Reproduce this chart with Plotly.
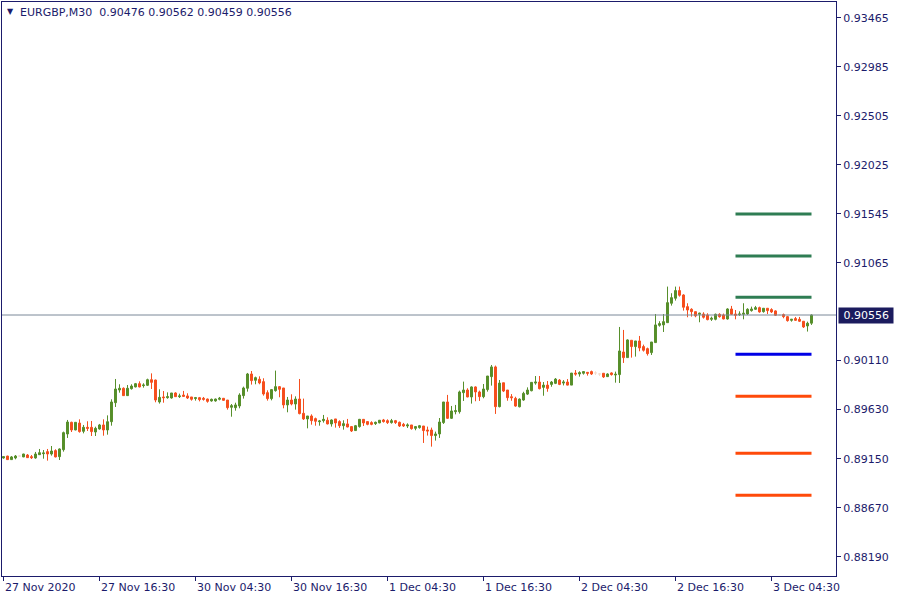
import plotly.graph_objects as go
from datetime import datetime, timedelta

symbol = "EURGBP,M30"
first_bar_time = "2020-11-27 04:30"

opens = [
    0.89157, 0.89176, 0.89141, 0.89157, 0.89176, 0.89167, 0.89186, 0.89170, 0.89157, 0.89189,
    0.89199, 0.89219, 0.89196, 0.89229, 0.89170, 0.89238, 0.89392, 0.89506, 0.89431, 0.89499,
    0.89418, 0.89457, 0.89457, 0.89411, 0.89441, 0.89480, 0.89431, 0.89512, 0.89698, 0.89822,
    0.89839, 0.89767, 0.89835, 0.89852, 0.89884, 0.89865, 0.89868, 0.89923, 0.89920, 0.89705,
    0.89754, 0.89747, 0.89744, 0.89793, 0.89757, 0.89773, 0.89764, 0.89754, 0.89738, 0.89747,
    0.89741, 0.89734, 0.89715, 0.89715, 0.89731, 0.89741, 0.89724, 0.89653, 0.89649, 0.89666,
    0.89767, 0.89839, 0.89979, 0.89917, 0.89927, 0.89904, 0.89796, 0.89738, 0.89816, 0.89855,
    0.89842, 0.89676, 0.89724, 0.89685, 0.89734, 0.89594, 0.89539, 0.89568, 0.89542, 0.89512,
    0.89522, 0.89526, 0.89490, 0.89539, 0.89513, 0.89473, 0.89490, 0.89464, 0.89425, 0.89464,
    0.89535, 0.89513, 0.89503, 0.89493, 0.89500, 0.89529, 0.89522, 0.89503, 0.89522, 0.89506,
    0.89486, 0.89470, 0.89480, 0.89447, 0.89454, 0.89470, 0.89431, 0.89431, 0.89376, 0.89392,
    0.89503, 0.89705, 0.89545, 0.89610, 0.89610, 0.89796, 0.89822, 0.89754, 0.89852, 0.89803,
    0.89757, 0.89826, 0.89953, 0.90048, 0.89659, 0.89893, 0.89822, 0.89756, 0.89740, 0.89658,
    0.89724, 0.89782, 0.89815, 0.89890, 0.89900, 0.89848, 0.89870, 0.89877, 0.89887, 0.89919,
    0.89890, 0.89900, 0.89870, 0.89988, 0.89979, 0.89986, 0.89995, 0.90002, 0.89989, 0.89979,
    0.89986, 0.89953, 0.89989, 0.89969, 0.89973, 0.90194, 0.90139, 0.90309, 0.90247, 0.90302,
    0.90247, 0.90227, 0.90188, 0.90286, 0.90455, 0.90459, 0.90481, 0.90671, 0.90720, 0.90795,
    0.90752, 0.90638, 0.90612, 0.90589, 0.90563, 0.90566, 0.90556, 0.90514, 0.90514, 0.90563,
    0.90556, 0.90517, 0.90615, 0.90566, 0.90560, 0.90563, 0.90566, 0.90599, 0.90612, 0.90628,
    0.90589, 0.90622, 0.90609, 0.90596, 0.90556, 0.90560, 0.90540, 0.90504, 0.90521, 0.90514,
    0.90495, 0.90449, 0.90476,
]
highs = [
    0.89176, 0.89178, 0.89176, 0.89186, 0.89178, 0.89198, 0.89196, 0.89186, 0.89216, 0.89245,
    0.89235, 0.89245, 0.89274, 0.89242, 0.89251, 0.89415, 0.89529, 0.89512, 0.89509, 0.89535,
    0.89480, 0.89516, 0.89519, 0.89463, 0.89490, 0.89535, 0.89574, 0.89731, 0.89930, 0.89878,
    0.89848, 0.89871, 0.89878, 0.89891, 0.89907, 0.89888, 0.89933, 0.89985, 0.89923, 0.89829,
    0.89812, 0.89799, 0.89793, 0.89800, 0.89786, 0.89813, 0.89790, 0.89754, 0.89754, 0.89754,
    0.89754, 0.89738, 0.89738, 0.89738, 0.89754, 0.89744, 0.89724, 0.89685, 0.89698, 0.89790,
    0.89855, 0.89989, 0.90008, 0.89953, 0.89956, 0.89937, 0.89819, 0.89832, 0.90012, 0.89861,
    0.89842, 0.89754, 0.89780, 0.89760, 0.89930, 0.89738, 0.89568, 0.89584, 0.89552, 0.89529,
    0.89578, 0.89555, 0.89535, 0.89539, 0.89526, 0.89526, 0.89539, 0.89470, 0.89480, 0.89539,
    0.89535, 0.89513, 0.89516, 0.89513, 0.89529, 0.89539, 0.89535, 0.89539, 0.89529, 0.89513,
    0.89500, 0.89496, 0.89480, 0.89470, 0.89480, 0.89470, 0.89464, 0.89454, 0.89415, 0.89548,
    0.89705, 0.89774, 0.89666, 0.89676, 0.89816, 0.89904, 0.89839, 0.89858, 0.89858, 0.89816,
    0.89881, 0.89959, 0.90067, 0.90061, 0.89920, 0.89893, 0.89822, 0.89782, 0.89756, 0.89740,
    0.89805, 0.89848, 0.89900, 0.89959, 0.89959, 0.89900, 0.89910, 0.89910, 0.89939, 0.89929,
    0.89919, 0.89929, 0.89988, 0.90017, 0.90005, 0.90008, 0.89995, 0.90012, 0.90005, 0.89986,
    0.89986, 0.89986, 0.89995, 0.90002, 0.90439, 0.90410, 0.90318, 0.90309, 0.90302, 0.90351,
    0.90266, 0.90237, 0.90292, 0.90566, 0.90495, 0.90566, 0.90834, 0.90769, 0.90834, 0.90834,
    0.90759, 0.90671, 0.90622, 0.90589, 0.90579, 0.90583, 0.90573, 0.90540, 0.90570, 0.90573,
    0.90570, 0.90622, 0.90645, 0.90605, 0.90592, 0.90671, 0.90622, 0.90638, 0.90645, 0.90638,
    0.90622, 0.90622, 0.90622, 0.90602, 0.90562, 0.90570, 0.90547, 0.90517, 0.90537, 0.90537,
    0.90495, 0.90491, 0.90562,
]
lows = [
    0.89150, 0.89139, 0.89137, 0.89144, 0.89174, 0.89165, 0.89157, 0.89147, 0.89150, 0.89186,
    0.89150, 0.89131, 0.89180, 0.89163, 0.89137, 0.89219, 0.89353, 0.89411, 0.89428, 0.89405,
    0.89398, 0.89421, 0.89372, 0.89372, 0.89434, 0.89375, 0.89385, 0.89473, 0.89656, 0.89796,
    0.89764, 0.89764, 0.89826, 0.89848, 0.89848, 0.89845, 0.89861, 0.89832, 0.89702, 0.89689,
    0.89698, 0.89737, 0.89738, 0.89754, 0.89744, 0.89754, 0.89734, 0.89718, 0.89718, 0.89711,
    0.89718, 0.89698, 0.89708, 0.89708, 0.89721, 0.89718, 0.89630, 0.89561, 0.89620, 0.89643,
    0.89738, 0.89806, 0.89875, 0.89878, 0.89878, 0.89767, 0.89718, 0.89721, 0.89806, 0.89751,
    0.89643, 0.89604, 0.89672, 0.89630, 0.89584, 0.89529, 0.89447, 0.89483, 0.89473, 0.89473,
    0.89503, 0.89486, 0.89464, 0.89454, 0.89451, 0.89434, 0.89457, 0.89411, 0.89421, 0.89454,
    0.89470, 0.89477, 0.89477, 0.89480, 0.89497, 0.89503, 0.89490, 0.89493, 0.89490, 0.89460,
    0.89460, 0.89451, 0.89434, 0.89428, 0.89444, 0.89304, 0.89376, 0.89268, 0.89327, 0.89353,
    0.89490, 0.89539, 0.89539, 0.89584, 0.89591, 0.89715, 0.89751, 0.89689, 0.89712, 0.89715,
    0.89741, 0.89806, 0.89865, 0.89588, 0.89652, 0.89802, 0.89717, 0.89717, 0.89658, 0.89652,
    0.89717, 0.89773, 0.89809, 0.89874, 0.89828, 0.89766, 0.89805, 0.89854, 0.89880, 0.89870,
    0.89867, 0.89867, 0.89870, 0.89962, 0.89953, 0.89973, 0.89963, 0.89969, 0.89969, 0.89960,
    0.89940, 0.89950, 0.89963, 0.89894, 0.89891, 0.90087, 0.90139, 0.90139, 0.90149, 0.90201,
    0.90198, 0.90159, 0.90165, 0.90286, 0.90442, 0.90390, 0.90481, 0.90648, 0.90697, 0.90736,
    0.90599, 0.90534, 0.90540, 0.90534, 0.90485, 0.90521, 0.90504, 0.90498, 0.90504, 0.90530,
    0.90514, 0.90511, 0.90556, 0.90514, 0.90547, 0.90514, 0.90556, 0.90589, 0.90605, 0.90579,
    0.90579, 0.90566, 0.90576, 0.90547, 0.90550, 0.90524, 0.90491, 0.90491, 0.90498, 0.90488,
    0.90429, 0.90394, 0.90459,
]
closes = [
    0.89170, 0.89141, 0.89167, 0.89176, 0.89176, 0.89196, 0.89160, 0.89160, 0.89196, 0.89209,
    0.89206, 0.89196, 0.89225, 0.89167, 0.89245, 0.89405, 0.89509, 0.89431, 0.89506, 0.89415,
    0.89457, 0.89447, 0.89415, 0.89447, 0.89480, 0.89431, 0.89512, 0.89705, 0.89832, 0.89839,
    0.89767, 0.89839, 0.89861, 0.89884, 0.89852, 0.89871, 0.89923, 0.89897, 0.89724, 0.89750,
    0.89747, 0.89757, 0.89793, 0.89757, 0.89764, 0.89760, 0.89744, 0.89731, 0.89747, 0.89728,
    0.89731, 0.89711, 0.89731, 0.89734, 0.89741, 0.89721, 0.89649, 0.89669, 0.89676, 0.89773,
    0.89842, 0.89979, 0.89914, 0.89943, 0.89891, 0.89783, 0.89738, 0.89826, 0.89855, 0.89829,
    0.89676, 0.89724, 0.89685, 0.89734, 0.89591, 0.89539, 0.89568, 0.89522, 0.89516, 0.89519,
    0.89535, 0.89490, 0.89529, 0.89500, 0.89473, 0.89493, 0.89460, 0.89421, 0.89473, 0.89535,
    0.89500, 0.89486, 0.89486, 0.89506, 0.89526, 0.89513, 0.89503, 0.89522, 0.89503, 0.89470,
    0.89470, 0.89480, 0.89444, 0.89464, 0.89473, 0.89425, 0.89421, 0.89376, 0.89392, 0.89509,
    0.89705, 0.89545, 0.89617, 0.89620, 0.89803, 0.89822, 0.89754, 0.89852, 0.89803, 0.89757,
    0.89832, 0.89959, 0.90048, 0.89659, 0.89890, 0.89812, 0.89747, 0.89747, 0.89665, 0.89733,
    0.89789, 0.89822, 0.89897, 0.89900, 0.89835, 0.89870, 0.89838, 0.89900, 0.89929, 0.89877,
    0.89900, 0.89870, 0.89988, 0.89978, 0.89992, 0.90002, 0.89986, 0.89979, 0.89989, 0.89979,
    0.89950, 0.89979, 0.89973, 0.89976, 0.90204, 0.90139, 0.90312, 0.90247, 0.90302, 0.90234,
    0.90211, 0.90178, 0.90292, 0.90459, 0.90472, 0.90491, 0.90677, 0.90726, 0.90795, 0.90749,
    0.90632, 0.90605, 0.90589, 0.90547, 0.90573, 0.90534, 0.90511, 0.90524, 0.90563, 0.90540,
    0.90517, 0.90615, 0.90563, 0.90553, 0.90566, 0.90573, 0.90612, 0.90615, 0.90628, 0.90586,
    0.90622, 0.90599, 0.90586, 0.90553, 0.90556, 0.90540, 0.90501, 0.90514, 0.90504, 0.90495,
    0.90439, 0.90475, 0.90556,
]
doji_bars = [4, 148, 149, 194]

level_values = [0.91545, 0.91133, 0.90730, 0.90171, 0.89762, 0.89204, 0.88792]
level_kinds = ["R3", "R2", "R1", "P", "S1", "S2", "S3"]

x_tick_labels = ["27 Nov 2020", "27 Nov 16:30", "30 Nov 04:30", "30 Nov 16:30",
                 "1 Dec 04:30", "1 Dec 16:30", "2 Dec 04:30", "2 Dec 16:30", "3 Dec 04:30"]
x_tick_step = 24
y_tick_values = [0.93465, 0.92985, 0.92505, 0.92025, 0.91545, 0.91065,
                 0.90110, 0.89630, 0.89150, 0.88670, 0.88190]

# ---- styling ----
NAVY = "#1b1b6b"
UP = "#578f2b"
DOWN = "#f64f1e"
FAINT = "#f3dccd"
LEVEL_COLORS = {"R": "#2e7d53", "P": "#0000e6", "S": "#ff4a0a"}
FONT = "DejaVu Sans"

# bar times (M30, weekends skipped)
times = []
t = datetime.strptime(first_bar_time, "%Y-%m-%d %H:%M")
while len(times) < len(closes):
    if t.weekday() < 5:
        times.append(t)
    t += timedelta(minutes=30)
last_day = times[-1].date()
day_start = next(i for i, tt in enumerate(times) if tt.date() == last_day)

idx = list(range(len(closes)))
normal = [i for i in idx if i not in doji_bars]

fig = go.Figure()
fig.add_trace(go.Candlestick(
    x=normal,
    open=[opens[i] for i in normal], high=[highs[i] for i in normal],
    low=[lows[i] for i in normal], close=[closes[i] for i in normal],
    increasing=dict(line=dict(color=UP, width=1), fillcolor=UP),
    decreasing=dict(line=dict(color=DOWN, width=1), fillcolor=DOWN),
    hoverinfo="skip", showlegend=False,
))
fig.add_trace(go.Candlestick(
    x=doji_bars,
    open=[opens[i] for i in doji_bars], high=[highs[i] for i in doji_bars],
    low=[lows[i] for i in doji_bars], close=[closes[i] for i in doji_bars],
    increasing=dict(line=dict(color=FAINT, width=1), fillcolor=FAINT),
    decreasing=dict(line=dict(color=FAINT, width=1), fillcolor=FAINT),
    hoverinfo="skip", showlegend=False,
))

for kind, val in zip(level_kinds, level_values):
    fig.add_trace(go.Scatter(
        x=[day_start, idx[-1]], y=[val, val], mode="lines",
        line=dict(color=LEVEL_COLORS[kind[0]], width=3),
        hoverinfo="skip", showlegend=False,
    ))

last_close = closes[-1]
fig.add_shape(type="line", xref="paper", x0=0, x1=1, yref="y", y0=last_close, y1=last_close,
              line=dict(color="#7a8898", width=1))

annotations = []
for k, lab in enumerate(x_tick_labels):
    annotations.append(dict(
        x=k * x_tick_step, xref="x", y=0, yref="paper", xanchor="left", yanchor="top",
        yshift=-3, xshift=-1, text=lab, showarrow=False,
        font=dict(family=FONT, size=11, color=NAVY)))

annotations.append(dict(
    x=1, xref="paper", y=last_close, yref="y", xanchor="left", yanchor="middle",
    xshift=2, text="\u00a0%.5f\u00a0" % last_close, showarrow=False, bgcolor="#1b1b5e",
    borderpad=1, font=dict(family=FONT, size=11, color="white")))

annotations.append(dict(
    x=0, xref="paper", y=1, yref="paper", xanchor="left", yanchor="top", xshift=3, yshift=-3,
    text="\u25bc", showarrow=False, font=dict(family=FONT, size=8, color=NAVY)))
annotations.append(dict(
    x=0, xref="paper", y=1, yref="paper", xanchor="left", yanchor="top", xshift=16, yshift=-2,
    text="%s\u00a0\u00a0%.5f %.5f %.5f %.5f" % (symbol, opens[-1], highs[-1], lows[-1], closes[-1]),
    showarrow=False, font=dict(family=FONT, size=11, color=NAVY)))

fig.update_layout(
    width=900, height=600,
    margin=dict(l=2, r=64, t=2, b=24),
    paper_bgcolor="white", plot_bgcolor="white",
    showlegend=False,
    annotations=annotations,
    xaxis=dict(
        range=[-0.375, 208.125], rangeslider=dict(visible=False),
        showgrid=False, zeroline=False, showline=True, linecolor=NAVY, linewidth=1, mirror=True,
        ticks="outside", ticklen=4, tickcolor=NAVY,
        tickvals=[k * x_tick_step for k in range(len(x_tick_labels))],
        showticklabels=False,
    ),
    yaxis=dict(
        range=[0.88002, 0.93619], side="right",
        showgrid=False, zeroline=False, showline=True, linecolor=NAVY, linewidth=1, mirror=True,
        ticks="outside", ticklen=4, tickcolor=NAVY,
        tickvals=y_tick_values, ticktext=["%.5f" % v for v in y_tick_values],
        tickfont=dict(family=FONT, size=11, color=NAVY),
    ),
)

fig.write_html("out.html", config={"displayModeBar": False},
               post_script="document.body.style.margin='0';document.body.style.overflow='hidden';")
